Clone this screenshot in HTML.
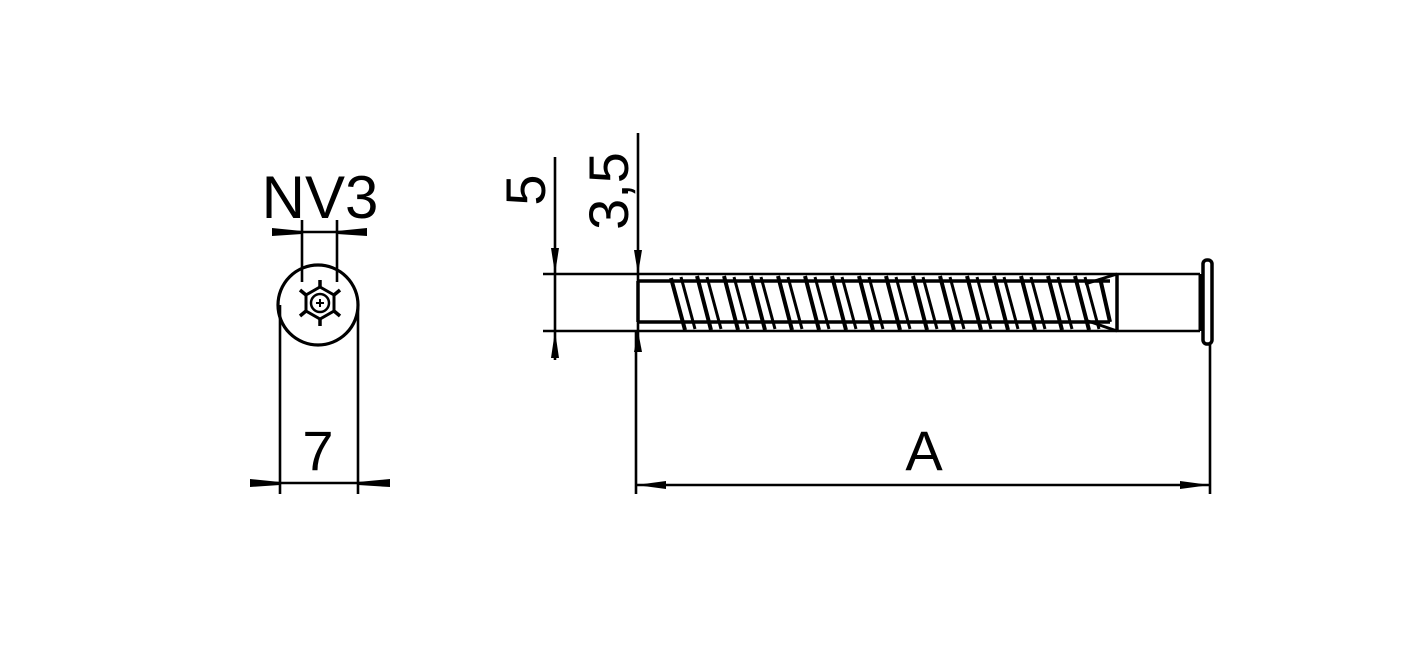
<!DOCTYPE html>
<html><head><style>body{margin:0;background:#fff}svg{display:block}</style></head><body>
<svg width="1421" height="648" viewBox="0 0 1421 648" xmlns="http://www.w3.org/2000/svg" font-family="Liberation Sans, sans-serif">
<g stroke="#000" fill="none" stroke-width="2.6">
<circle cx="318" cy="305" r="40" stroke-width="3.2"/>
<line x1="280" y1="305" x2="280" y2="494"/>
<line x1="358" y1="305" x2="358" y2="494"/>
<line x1="250" y1="483" x2="390" y2="483"/>
<line x1="302" y1="220" x2="302" y2="282"/>
<line x1="337" y1="220" x2="337" y2="282"/>
<line x1="272" y1="232" x2="367" y2="232"/>
<polygon points="320,287 334,295 334,311 320,319 306,311 306,295" stroke-width="3"/>
<circle cx="320" cy="303" r="9" stroke-width="2.5"/>
<line x1="320" y1="280" x2="320" y2="287" stroke-width="3.5"/>
<line x1="320" y1="319" x2="320" y2="326" stroke-width="3.5"/>
<line x1="300" y1="290" x2="306" y2="295" stroke-width="3.5"/>
<line x1="340" y1="290" x2="334" y2="295" stroke-width="3.5"/>
<line x1="300" y1="316" x2="306" y2="311" stroke-width="3.5"/>
<line x1="340" y1="316" x2="334" y2="311" stroke-width="3.5"/>
<line x1="316" y1="303" x2="324" y2="303" stroke-width="2"/><line x1="320" y1="299" x2="320" y2="307" stroke-width="2"/>
<line x1="543" y1="274" x2="1200" y2="274"/>
<line x1="543" y1="331" x2="1200" y2="331"/>
<line x1="555" y1="157" x2="555" y2="360"/>
<line x1="638" y1="133" x2="638" y2="350"/>
<line x1="636" y1="330" x2="636" y2="494"/>
<line x1="1210" y1="345" x2="1210" y2="494"/>
<line x1="636" y1="485" x2="1210" y2="485"/>
<line x1="638" y1="281" x2="1110" y2="281" stroke-width="3.5"/>
<line x1="638" y1="322" x2="1110" y2="322" stroke-width="3.5"/>
<line x1="638" y1="281" x2="638" y2="322" stroke-width="3.5"/>
<line x1="1117" y1="274" x2="1117" y2="331" stroke-width="3.5"/>
<line x1="1200" y1="274" x2="1200" y2="331" stroke-width="3"/>
<line x1="1085" y1="284" x2="1117" y2="274" stroke-width="3"/>
<line x1="1085" y1="320" x2="1117" y2="331" stroke-width="3"/>
<rect x="1203" y="260" width="9" height="84" rx="4" stroke-width="3.5"/>
<path stroke-width="4" d="M671,278 L685,330 M697,276 L711,330 M724,276 L738,330 M751,276 L765,330 M778,276 L792,330 M805,276 L819,330 M832,276 L846,330 M859,276 L873,330 M886,276 L900,330 M913,276 L927,330 M940,276 L954,330 M967,276 L981,330 M994,276 L1008,330 M1021,276 L1035,330 M1048,276 L1062,330 M1075,276 L1089,330 M1100,278 L1110,322"/>
<path stroke-width="3" d="M681,277 L695,329 M707,277 L721,329 M734,277 L748,329 M761,277 L775,329 M788,277 L802,329 M815,277 L829,329 M842,277 L856,329 M869,277 L883,329 M896,277 L910,329 M923,277 L937,329 M950,277 L964,329 M977,277 L991,329 M1004,277 L1018,329 M1031,277 L1045,329 M1058,277 L1072,329 M1085,277 L1099,329"/>
</g>
<g fill="#000">
<polygon points="250,479 280,482 280,485 250,487"/>
<polygon points="390,479 358,482 358,485 390,487"/>
<polygon points="272,228 302,231 302,234 272,236"/>
<polygon points="367,228 337,231 337,234 367,236"/>
<polygon points="551,248 555,274 559,248"/>
<polygon points="551,358 555,331 559,358"/>
<polygon points="634,250 638,274 642,250"/>
<polygon points="634,352 638,331 642,352"/>
<polygon points="666,481 636,485 666,489"/>
<polygon points="1180,481 1210,485 1180,489"/>
</g>
<g font-size="60" text-anchor="middle" fill="#000">
<text x="320" y="218">NV3</text>
<text x="318" y="470" font-size="56">7</text>
<text x="924" y="470" font-size="56">A</text>
<text transform="translate(545,190) rotate(-90)" font-size="56">5</text>
<text transform="translate(628,191) rotate(-90)" font-size="56">3,5</text>
</g>
</svg>
</body></html>
